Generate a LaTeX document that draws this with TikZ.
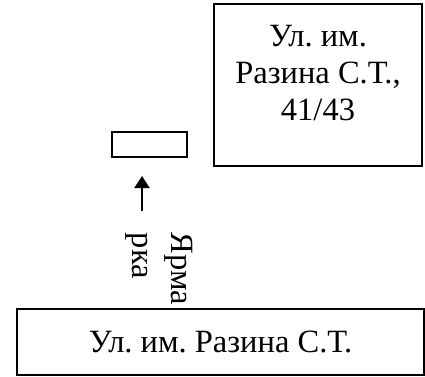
\documentclass[tikz,border=0pt]{standalone}
\usepackage{fontspec}
\setmainfont{Liberation Serif}
\usepackage{tikz}
\usetikzlibrary{positioning, arrows.meta}
\frenchspacing
\tikzset{
  house/.style={rectangle, draw=black, line width=2pt, fill=white,
                inner sep=0pt},
  street/.style={rectangle, draw=black, line width=2pt, fill=white,
                 inner sep=0pt, font=\fontsize{32.5}{37}\selectfont},
  sign/.style={font=\fontsize{32.5}{37}\selectfont, align=center, inner sep=0pt},
  arr/.style={-{Triangle[length=12pt, width=15pt]}, line width=2pt},
}

\begin{document}
\begin{tikzpicture}[x=1pt, y=-1pt]
  \useasboundingbox (0,0) rectangle (425,376);
  % building on the corner
  \node[house, minimum width=208pt, minimum height=162pt] (shop) at (318,85) {};
  \node[sign] (shopname) at ([yshift=11.5pt]shop.center)
    {Ул. им.\\Разина С.Т.,\\41/43};
  % kiosk and the way to it
  \node[house, minimum width=75pt, minimum height=25pt] (kiosk) at (149.5,144.5) {};
  \coordinate (arrfoot) at (142,211);
  \coordinate (arrtip) at (142,176);
  \draw[arr] (arrfoot) -- (arrtip);
  \node[sign, align=left, rotate=-90, font=\fontsize{32.5}{39}\selectfont]
    (fair) at (159,269) {Ярма\\рка};
  % the street
  \node[street, minimum width=407pt, minimum height=66pt] (road) at (220.5,342)
    {Ул. им. Разина С.Т.};
\end{tikzpicture}
\end{document}
